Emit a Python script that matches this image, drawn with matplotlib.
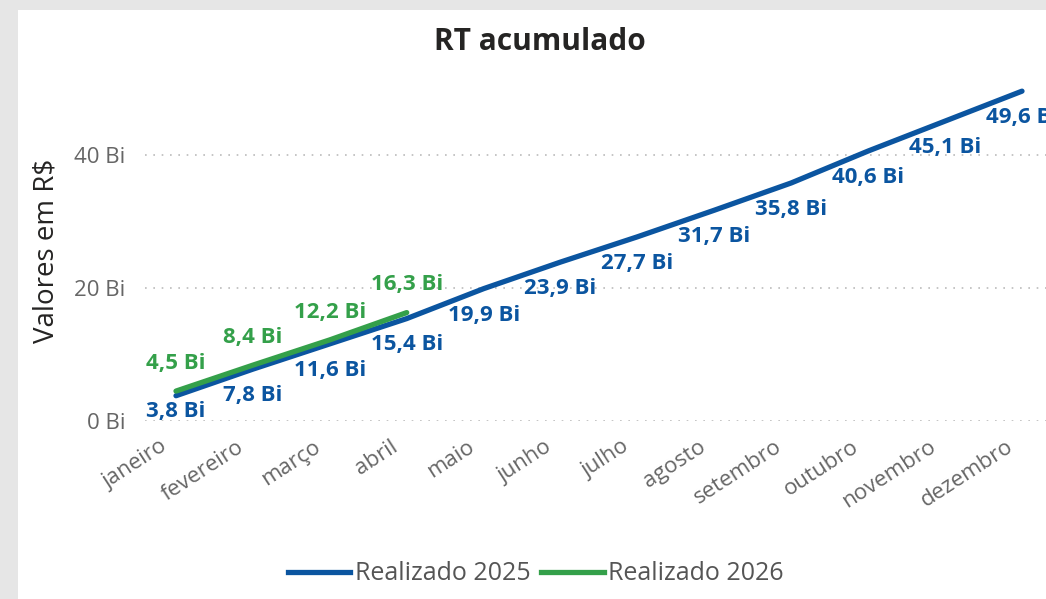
import matplotlib.pyplot as plt
from matplotlib.patches import Rectangle
from matplotlib.lines import Line2D
from matplotlib.transforms import ScaledTranslation

meses = ["janeiro", "fevereiro", "março", "abril", "maio", "junho", "julho",
         "agosto", "setembro", "outubro", "novembro", "dezembro"]
realizado_2025 = [3.8, 7.8, 11.6, 15.4, 19.9, 23.9, 27.7, 31.7, 35.8, 40.6, 45.1, 49.6]
realizado_2026 = [4.5, 8.4, 12.2, 16.3]
yticks = [0, 20, 40]

AZUL = "#0B55A0"
VERDE = "#34A04A"
plt.rcParams["font.family"] = ["Open Sans", "DejaVu Sans"]

W, H = 1046, 599
fig = plt.figure(figsize=(W / 100, H / 100), dpi=100)
fig.patch.set_facecolor("#E6E6E6")
fig.add_artist(Rectangle((18 / W, 0), 1, 1 - 10 / H, transform=fig.transFigure,
                         facecolor="white", edgecolor="none", zorder=0))

# eixo: x=0 em 176px, x=11 em 1022px ; y=0 em 421px, y=40 em 155px
px_x = (1022 - 176) / 11
px_y = (421 - 155) / 40
left, right = 145, 1046
bottom, top = 421, 80
ax = fig.add_axes([left / W, 1 - bottom / H, (right - left) / W, (bottom - top) / H])
ax.set_xlim(-(176 - left) / px_x, (right - 176) / px_x)
ax.set_ylim(0, (bottom - top) / px_y)
ax.patch.set_alpha(0)

x25 = list(range(len(realizado_2025)))
x26 = list(range(len(realizado_2026)))
ax.plot(x25, realizado_2025, color=AZUL, lw=3.8, solid_capstyle="round", zorder=3)
ax.plot(x26, realizado_2026, color=VERDE, lw=3.8, solid_capstyle="round", zorder=4)

for i, v in enumerate(realizado_2025):
    off = -11 if i == 0 else -19
    ax.annotate(f"{v:.1f} Bi".replace(".", ","), (i, v), xytext=(0, off),
                textcoords="offset points", ha="center", va="center",
                color=AZUL, fontsize=16, fontweight="bold", zorder=5)
for i, v in enumerate(realizado_2026):
    ax.annotate(f"{v:.1f} Bi".replace(".", ","), (i, v), xytext=(0, 20),
                textcoords="offset points", ha="center", va="center",
                color=VERDE, fontsize=16, fontweight="bold", zorder=5)

ax.set_yticks(yticks)
ax.set_yticklabels([f"{t} Bi" for t in yticks], color="#666666", fontsize=16)
ax.yaxis.grid(True, linestyle=(0, (1, 4)), color="#BBBBBB", lw=1.2)
ax.set_axisbelow(True)
ax.set_xticks(x25)
ax.set_xticklabels(meses, rotation=33, ha="right", rotation_mode="anchor",
                   color="#666666", fontsize=16)
ax.tick_params(axis="y", length=0, pad=14)
ax.tick_params(axis="x", length=0, pad=11)
shift = ScaledTranslation(-12 / 72, 0, fig.dpi_scale_trans)
for lbl in ax.get_xticklabels():
    lbl.set_transform(lbl.get_transform() + shift)
for s in ax.spines.values():
    s.set_visible(False)

ax.set_ylabel("Valores em R$", fontsize=20, color="#252423", labelpad=10)
fig.text(540 / W, 1 - 42 / H, "RT acumulado", ha="center", va="center",
         fontsize=21.5, fontweight="bold", color="#252423")

handles = [Line2D([], [], color=AZUL, lw=3.8), Line2D([], [], color=VERDE, lw=3.8)]
fig.legend(handles, ["Realizado 2025", "Realizado 2026"], loc="center",
           bbox_to_anchor=(536 / W, 1 - 574 / H), ncol=2, frameon=False,
           fontsize=18, labelcolor="#555555", handlelength=2.5,
           handletextpad=0.2, columnspacing=0.4)

fig.savefig("out.png", dpi=100)
